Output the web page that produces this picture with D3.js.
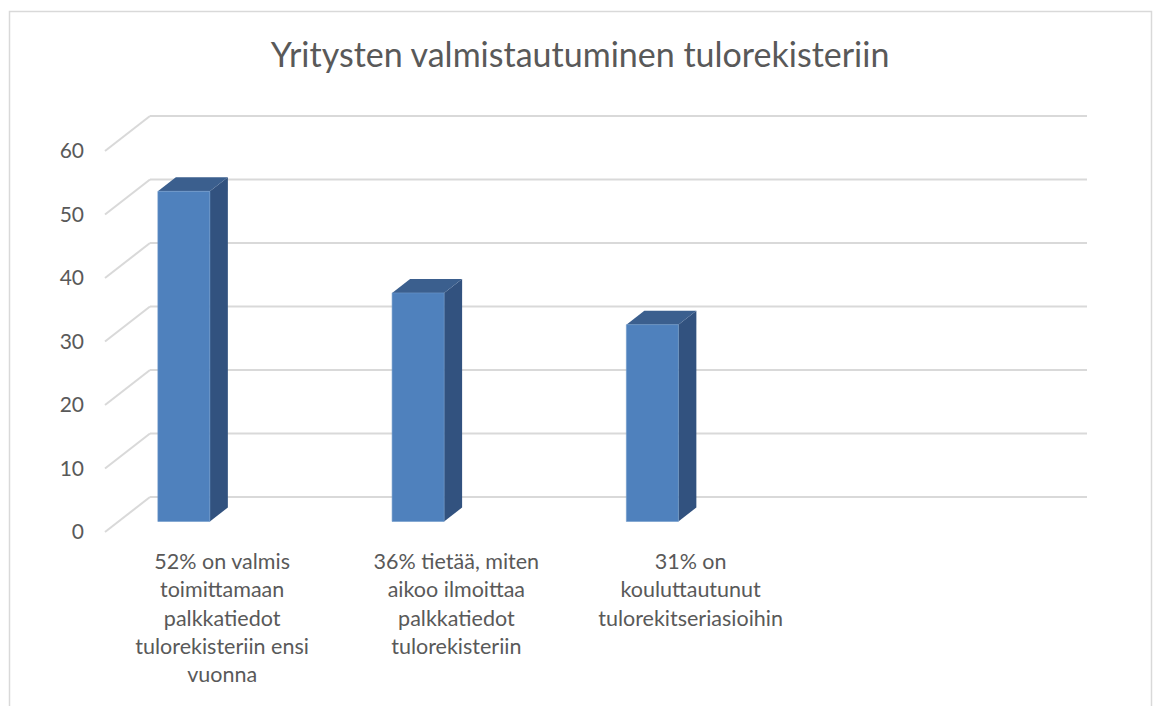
<!DOCTYPE html>
<html>
<head>
<meta charset="utf-8">
<script src="https://cdn.jsdelivr.net/npm/d3@7"></script>
<style>
  body { margin: 0; background: #fff; }
  text { font-family: Lato, "Open Sans", sans-serif; fill: #595959; }
</style>
</head>
<body>
<svg id="chart" width="1153" height="706"></svg>
<script>
const title = "Yritysten valmistautuminen tulorekisteriin";

// category labels (already split in lines as in the picture), 4th slot is empty
const categories = [
  ["52% on valmis", "toimittamaan", "palkkatiedot", "tulorekisteriin ensi", "vuonna"],
  ["36% tietää, miten", "aikoo ilmoittaa", "palkkatiedot", "tulorekisteriin"],
  ["31% on", "kouluttautunut", "tulorekitseriasioihin"],
  []
];
const values = [52, 36, 31, null];
const yTicks = [0, 10, 20, 30, 40, 50, 60];

const svg = d3.select("#chart");

// oblique 3d: z = 0 is back wall, z = 1 is front edge of floor
const depth = { dx: -45, dy: 35 };
const barZ = [0.3, 0.7];

const x = d3
  .scaleBand()
  .domain(d3.range(categories.length))
  .range([150, 1087]);

const y = d3.scaleLinear().domain([0, 60]).range([497, 116]);

const project = (xb, v, z) => [xb + z * depth.dx, y(v) + z * depth.dy];

// chart border
svg
  .append("rect")
  .attr("x", 9.5)
  .attr("y", 11.5)
  .attr("width", 1142)
  .attr("height", 720)
  .attr("fill", "none")
  .attr("stroke", "#d9d9d9")
  .attr("stroke-width", 1.5);

svg
  .append("text")
  .attr("x", 580)
  .attr("y", 67)
  .attr("text-anchor", "middle")
  .style("font-size", "34px")
  .text(title);

// gridlines: back wall + left wall diagonal
const grid = svg.append("g").attr("class", "grid");
const [xl, xr] = x.range();

grid
  .selectAll(".back")
  .data(yTicks)
  .join("line")
  .attr("class", "back")
  .attr("x1", xl)
  .attr("x2", xr)
  .attr("y1", (d) => y(d))
  .attr("y2", (d) => y(d));

grid
  .selectAll(".side")
  .data(yTicks)
  .join("line")
  .attr("class", "side")
  .attr("x1", xl)
  .attr("y1", (d) => y(d))
  .attr("x2", (d) => project(xl, d, 1)[0])
  .attr("y2", (d) => project(xl, d, 1)[1]);

grid.selectAll("line").attr("stroke", "#d9d9d9").attr("stroke-width", 2);

// y axis labels sit at the front end of the diagonals
svg
  .selectAll(".ylabel")
  .data(yTicks)
  .join("text")
  .attr("class", "ylabel")
  .attr("x", (d) => project(xl, d, 1)[0] - 21)
  .attr("y", (d) => project(xl, d, 1)[1])
  .attr("dy", "0.35em")
  .attr("text-anchor", "end")
  .style("font-size", "21px")
  .text((d) => d);

// bars
const barOffset = x.bandwidth() * 0.168;
const barWidth = x.bandwidth() * 0.222;
const pts = (arr) => arr.map((p) => p.join(",")).join(" ");

const bars = svg
  .selectAll(".bar")
  .data(values.map((v, i) => ({ v, i })).filter((d) => d.v != null))
  .join("g")
  .attr("class", "bar");

bars.each(function (d) {
  const g = d3.select(this);
  const x0 = x(d.i) + barOffset;
  const x1 = x0 + barWidth;
  const [zb, zf] = barZ;

  // side face
  g.append("polygon")
    .attr("fill", "#32527f")
    .attr(
      "points",
      pts([
        project(x1, 0, zf),
        project(x1, d.v, zf),
        project(x1, d.v, zb),
        project(x1, 0, zb),
      ])
    );

  // top face
  g.append("polygon")
    .attr("fill", "#3b5f8e")
    .attr(
      "points",
      pts([
        project(x0, d.v, zf),
        project(x1, d.v, zf),
        project(x1, d.v, zb),
        project(x0, d.v, zb),
      ])
    );

  // front face
  g.append("polygon")
    .attr("fill", "#4f81bd")
    .attr("stroke", "#6f98c9")
    .attr("stroke-width", 0.6)
    .attr(
      "points",
      pts([
        project(x0, 0, zf),
        project(x1, 0, zf),
        project(x1, d.v, zf),
        project(x0, d.v, zf),
      ])
    );
});

// category labels at the front edge of floor
const catLabels = svg
  .selectAll(".xlabel")
  .data(categories)
  .join("text")
  .attr("class", "xlabel")
  .attr("text-anchor", "middle")
  .style("font-size", "21.5px");

catLabels.each(function (lines, i) {
  const cx = project(x(i) + x.bandwidth() / 2, 0, 1)[0];
  const by = project(xl, 0, 1)[1] + 37;
  d3.select(this)
    .selectAll("tspan")
    .data(lines)
    .join("tspan")
    .attr("x", cx)
    .attr("y", (d, j) => by + j * 28.25)
    .text((d) => d);
});
</script>
</body>
</html>
